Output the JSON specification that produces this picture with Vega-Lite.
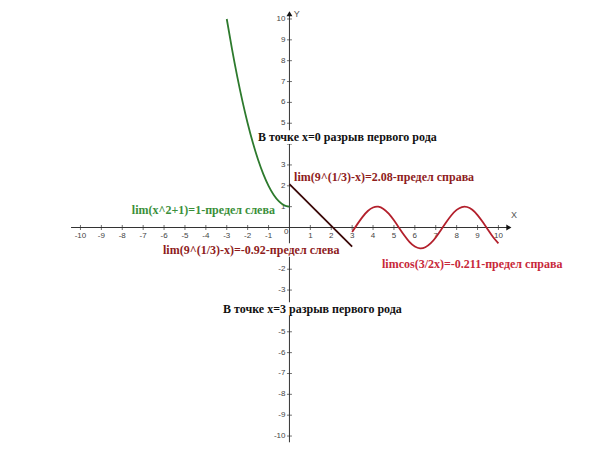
{
  "$schema": "https://vega.github.io/schema/vega-lite/v6.json",
  "width": 600,
  "height": 450,
  "autosize": "none",
  "padding": 0,
  "background": "white",
  "config": {"view": {"stroke": null}},
  "datasets": {
    "axes": [
      {"x": -10.45, "y": 0, "x2": 10.5, "y2": 0},
      {"x": 0, "y": -10.3, "x2": 0, "y2": 10.25}
    ],
    "xticks": [
      {"x": -10, "y": 0, "label": "-10"}, {"x": -9, "y": 0, "label": "-9"}, {"x": -8, "y": 0, "label": "-8"},
      {"x": -7, "y": 0, "label": "-7"}, {"x": -6, "y": 0, "label": "-6"}, {"x": -5, "y": 0, "label": "-5"},
      {"x": -4, "y": 0, "label": "-4"}, {"x": -3, "y": 0, "label": "-3"}, {"x": -2, "y": 0, "label": "-2"},
      {"x": -1, "y": 0, "label": "-1"}, {"x": 1, "y": 0, "label": "1"}, {"x": 2, "y": 0, "label": "2"},
      {"x": 3, "y": 0, "label": "3"}, {"x": 4, "y": 0, "label": "4"}, {"x": 5, "y": 0, "label": "5"},
      {"x": 6, "y": 0, "label": "6"}, {"x": 7, "y": 0, "label": "7"}, {"x": 8, "y": 0, "label": "8"},
      {"x": 9, "y": 0, "label": "9"}, {"x": 10, "y": 0, "label": "10"}
    ],
    "yticks": [
      {"x": 0, "y": -10, "label": "-10"}, {"x": 0, "y": -9, "label": "-9"}, {"x": 0, "y": -8, "label": "-8"},
      {"x": 0, "y": -7, "label": "-7"}, {"x": 0, "y": -6, "label": "-6"}, {"x": 0, "y": -5, "label": "-5"},
      {"x": 0, "y": -3, "label": "-3"}, {"x": 0, "y": -2, "label": "-2"},
      {"x": 0, "y": 1, "label": "1"}, {"x": 0, "y": 2, "label": "2"},
      {"x": 0, "y": 3, "label": "3"}, {"x": 0, "y": 5, "label": "5"},
      {"x": 0, "y": 6, "label": "6"}, {"x": 0, "y": 7, "label": "7"}, {"x": 0, "y": 8, "label": "8"},
      {"x": 0, "y": 9, "label": "9"}, {"x": 0, "y": 10, "label": "10"}
    ],
    "ymarks": [
      {"x": 0, "y": -10}, {"x": 0, "y": -9}, {"x": 0, "y": -8}, {"x": 0, "y": -7}, {"x": 0, "y": -6},
      {"x": 0, "y": -5}, {"x": 0, "y": -4}, {"x": 0, "y": -3}, {"x": 0, "y": -2}, {"x": 0, "y": -1},
      {"x": 0, "y": 1}, {"x": 0, "y": 2}, {"x": 0, "y": 3}, {"x": 0, "y": 4}, {"x": 0, "y": 5},
      {"x": 0, "y": 6}, {"x": 0, "y": 7}, {"x": 0, "y": 8}, {"x": 0, "y": 9}, {"x": 0, "y": 10}
    ],
    "arrows": [
      {"x": 10.5, "y": 0, "dir": "right"},
      {"x": 0, "y": 10.25, "dir": "up"}
    ],
    "names": [
      {"x": 10.75, "y": 0.6, "label": "X"},
      {"x": 0.35, "y": 10.25, "label": "Y"}
    ],
    "boxes": [
      {"x": -1.56, "x2": 7.24, "y": 4.0, "y2": 4.66},
      {"x": 0.17, "x2": 9.98, "y": 2.1, "y2": 2.74},
      {"x": -7.59, "x2": -0.65, "y": 0.52, "y2": 1.16},
      {"x": -6.1, "x2": 2.46, "y": -1.4, "y2": -0.76},
      {"x": 4.38, "x2": 13.14, "y": -2.07, "y2": -1.43},
      {"x": -3.23, "x2": 5.53, "y": -4.23, "y2": -3.59}
    ],
    "curves": [
      {"series": "parabola", "x": -3, "y": 10},
      {"series": "parabola", "x": -2.75, "y": 8.5625},
      {"series": "parabola", "x": -2.5, "y": 7.25},
      {"series": "parabola", "x": -2.25, "y": 6.0625},
      {"series": "parabola", "x": -2, "y": 5},
      {"series": "parabola", "x": -1.75, "y": 4.0625},
      {"series": "parabola", "x": -1.5, "y": 3.25},
      {"series": "parabola", "x": -1.25, "y": 2.5625},
      {"series": "parabola", "x": -1, "y": 2},
      {"series": "parabola", "x": -0.75, "y": 1.5625},
      {"series": "parabola", "x": -0.5, "y": 1.25},
      {"series": "parabola", "x": -0.25, "y": 1.0625},
      {"series": "parabola", "x": 0, "y": 1},
      {"series": "linear", "x": 0, "y": 2.08},
      {"series": "linear", "x": 3, "y": -0.92},
      {"series": "cosine", "x": 3, "y": -0.211},
      {"series": "cosine", "x": 3.25, "y": 0.162},
      {"series": "cosine", "x": 3.5, "y": 0.512},
      {"series": "cosine", "x": 3.75, "y": 0.791},
      {"series": "cosine", "x": 4, "y": 0.96},
      {"series": "cosine", "x": 4.25, "y": 0.996},
      {"series": "cosine", "x": 4.5, "y": 0.893},
      {"series": "cosine", "x": 4.75, "y": 0.666},
      {"series": "cosine", "x": 5, "y": 0.347},
      {"series": "cosine", "x": 5.25, "y": -0.021},
      {"series": "cosine", "x": 5.5, "y": -0.386},
      {"series": "cosine", "x": 5.75, "y": -0.698},
      {"series": "cosine", "x": 6, "y": -0.911},
      {"series": "cosine", "x": 6.25, "y": -0.999},
      {"series": "cosine", "x": 6.5, "y": -0.948},
      {"series": "cosine", "x": 6.75, "y": -0.765},
      {"series": "cosine", "x": 7, "y": -0.476},
      {"series": "cosine", "x": 7.25, "y": -0.12},
      {"series": "cosine", "x": 7.5, "y": 0.252},
      {"series": "cosine", "x": 7.75, "y": 0.589},
      {"series": "cosine", "x": 8, "y": 0.844},
      {"series": "cosine", "x": 8.25, "y": 0.982},
      {"series": "cosine", "x": 8.5, "y": 0.983},
      {"series": "cosine", "x": 8.75, "y": 0.848},
      {"series": "cosine", "x": 9, "y": 0.595},
      {"series": "cosine", "x": 9.25, "y": 0.259},
      {"series": "cosine", "x": 9.5, "y": -0.113},
      {"series": "cosine", "x": 9.75, "y": -0.469},
      {"series": "cosine", "x": 10, "y": -0.76}
    ],
    "notes": [
      {"kind": "remark", "x": -1.51, "y": 4.34, "label": "В точке x=0 разрыв первого рода"},
      {"kind": "linear", "x": 0.22, "y": 2.42, "label": "lim(9^(1/3)-x)=2.08-предел справа"},
      {"kind": "parabola", "x": -7.54, "y": 0.84, "label": "lim(x^2+1)=1-предел слева"},
      {"kind": "linear", "x": -6.05, "y": -1.08, "label": "lim(9^(1/3)-x)=-0.92-предел слева"},
      {"kind": "cosine", "x": 4.43, "y": -1.75, "label": "limcos(3/2x)=-0.211-предел справа"},
      {"kind": "remark", "x": -3.18, "y": -3.91, "label": "В точке x=3 разрыв первого рода"}
    ]
  },
  "encoding": {
    "x": {"field": "x", "type": "quantitative", "scale": {"domain": [-13.85, 14.86], "nice": false, "zero": false}, "axis": null},
    "y": {"field": "y", "type": "quantitative", "scale": {"domain": [-10.67, 10.91], "nice": false, "zero": false}, "axis": null}
  },
  "layer": [
    {
      "data": {"name": "axes"},
      "mark": {"type": "rule", "color": "#333333", "strokeWidth": 1},
      "encoding": {"x2": {"field": "x2"}, "y2": {"field": "y2"}}
    },
    {
      "data": {"name": "xticks"},
      "mark": {"type": "tick", "orient": "vertical", "size": 5, "thickness": 1, "color": "#333333"}
    },
    {
      "data": {"name": "ymarks"},
      "mark": {"type": "tick", "orient": "horizontal", "size": 5, "thickness": 1, "color": "#333333"}
    },
    {
      "data": {"name": "arrows"},
      "mark": {"type": "point", "filled": true, "color": "#111111", "size": 35, "opacity": 1},
      "encoding": {
        "shape": {"field": "dir", "type": "nominal", "scale": {"domain": ["right", "up"], "range": ["triangle-right", "triangle-up"]}, "legend": null}
      }
    },
    {
      "data": {"name": "names"},
      "mark": {"type": "text", "font": "Liberation Sans", "fontSize": 9, "color": "#555555", "align": "center", "baseline": "middle"},
      "encoding": {"text": {"field": "label"}}
    },
    {
      "data": {"name": "xticks"},
      "mark": {"type": "text", "font": "Liberation Sans", "fontSize": 8, "color": "#444444", "align": "center", "baseline": "middle", "dy": 8},
      "encoding": {"text": {"field": "label"}}
    },
    {
      "data": {"values": [{"x": 0, "y": 0, "label": "0"}]},
      "mark": {"type": "text", "font": "Liberation Sans", "fontSize": 8, "color": "#444444", "align": "right", "baseline": "middle", "dx": -1, "dy": 4},
      "encoding": {"text": {"field": "label"}}
    },
    {
      "data": {"name": "yticks"},
      "mark": {"type": "text", "font": "Liberation Sans", "fontSize": 8, "color": "#444444", "align": "right", "baseline": "middle", "dx": -4},
      "encoding": {"text": {"field": "label"}}
    },
    {
      "data": {"name": "boxes"},
      "mark": {"type": "rect", "color": "white", "opacity": 1},
      "encoding": {"x2": {"field": "x2"}, "y2": {"field": "y2"}}
    },
    {
      "data": {"name": "curves"},
      "mark": {"type": "line", "strokeWidth": 1.8, "interpolate": "natural"},
      "encoding": {
        "color": {"field": "series", "type": "nominal", "scale": {"domain": ["parabola", "linear", "cosine"], "range": ["#2d7a2d", "#3a0808", "#b3202c"]}, "legend": null}
      }
    },
    {
      "data": {"name": "notes"},
      "mark": {"type": "text", "font": "Liberation Serif", "fontWeight": "bold", "fontSize": 12, "align": "left", "baseline": "middle"},
      "encoding": {
        "text": {"field": "label"},
        "color": {"field": "kind", "type": "nominal", "scale": {"domain": ["remark", "linear", "parabola", "cosine"], "range": ["#111111", "#8e1c1c", "#3a8f3a", "#c8283a"]}, "legend": null}
      }
    }
  ],
  "resolve": {"scale": {"color": "independent"}}
}
